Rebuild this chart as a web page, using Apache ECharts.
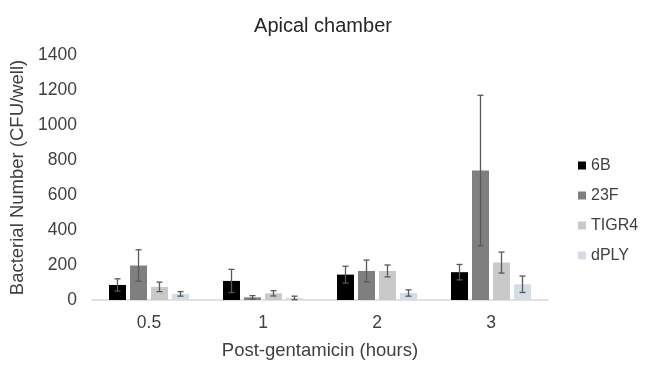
<!DOCTYPE html>
<html><head><meta charset="utf-8">
<script src="https://cdn.jsdelivr.net/npm/echarts@6/dist/echarts.min.js"></script>
<style>html,body{margin:0;padding:0;background:#fff}#c{width:646px;height:366px}</style>
</head><body><div id="c"></div>
<script>
const categories = ['0.5', '1', '2', '3'];
const seriesNames = ['6B', '23F', 'TIGR4', 'dPLY'];
const v6B = [86, 109, 145, 159];
const v23F = [197, 15, 166, 740];
const vTIGR4 = [75, 38, 166, 214];
const vdPLY = [35, 12, 40, 90];
const e6B = [35, 66, 48, 44];
const e23F = [90, 10, 62, 430];
const eTIGR4 = [27, 15, 34, 60];
const edPLY = [13, 10, 18, 47];
const colors = ['#000000', '#7f7f7f', '#c9c9c9', '#d6dce5'];

const values = [v6B, v23F, vTIGR4, vdPLY];
const errors = [e6B, e23F, eTIGR4, edPLY];
const BAR_W = 17, GAP = 4;

const chart = echarts.init(document.getElementById('c'));
const series = [];
values.forEach((vals, i) => {
  series.push({
    name: seriesNames[i], type: 'bar', data: vals, barWidth: BAR_W, barGap: (GAP / BAR_W * 100) + '%',
    itemStyle: { color: colors[i] }, emphasis: { disabled: true }
  });
});
values.forEach((vals, i) => {
  series.push({
    type: 'custom', name: seriesNames[i] + ' err', z: 10, silent: true,
    data: vals.map((v, j) => [j, v - errors[i][j], v + errors[i][j]]),
    renderItem: function (params, api) {
      const n = values.length;
      const total = n * BAR_W + (n - 1) * GAP;
      const c = api.coord([api.value(0), 0]);
      const x = c[0] - total / 2 + BAR_W / 2 + i * (BAR_W + GAP);
      const lo = api.coord([api.value(0), api.value(1)])[1];
      const hi = api.coord([api.value(0), api.value(2)])[1];
      const cap = 3;
      const style = { stroke: '#595959', lineWidth: 1.3 };
      return { type: 'group', children: [
        { type: 'line', shape: { x1: x, y1: lo, x2: x, y2: hi }, style },
        { type: 'line', shape: { x1: x - cap, y1: lo, x2: x + cap, y2: lo }, style },
        { type: 'line', shape: { x1: x - cap, y1: hi, x2: x + cap, y2: hi }, style }
      ]};
    }
  });
});

chart.setOption({
  animation: false,
  textStyle: { fontFamily: 'Liberation Sans, Arial, sans-serif' },
  title: { text: 'Apical chamber', left: 318, textAlign: 'center', top: 11,
    textStyle: { fontSize: 20, fontWeight: 'normal', color: '#262626' } },
  legend: {
    orient: 'vertical', left: 573, top: 152, itemWidth: 8, itemHeight: 8, itemGap: 13,
    icon: 'rect', data: seriesNames,
    textStyle: { fontSize: 16, color: '#404040', lineHeight: 17 }
  },
  grid: { left: 92, right: 98, top: 55, bottom: 66 },
  xAxis: {
    type: 'category', data: categories,
    name: 'Post-gentamicin (hours)', nameLocation: 'middle', nameGap: 41,
    nameTextStyle: { fontSize: 18.5, color: '#404040' },
    axisLine: { lineStyle: { color: '#d9d9d9', width: 1.5 } },
    axisTick: { show: false },
    axisLabel: { fontSize: 17.5, color: '#404040', margin: 14 }
  },
  yAxis: {
    type: 'value', min: 0, max: 1400, interval: 200,
    name: 'Bacterial Number (CFU/well)', nameLocation: 'middle', nameGap: 61,
    nameTextStyle: { fontSize: 18.5, color: '#404040' },
    axisLine: { show: false }, axisTick: { show: false }, splitLine: { show: false },
    axisLabel: { fontSize: 17.5, color: '#404040', margin: 15, formatter: v => String(v) }
  },
  series
});
</script></body></html>
